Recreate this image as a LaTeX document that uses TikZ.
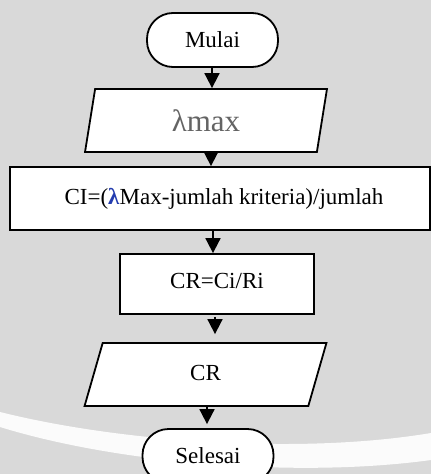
\documentclass[tikz,border=0pt]{standalone}
\usepackage{fontspec}
\setmainfont{Liberation Serif}
\usetikzlibrary{shapes.geometric,arrows.meta}
\definecolor{bggrey}{RGB}{217,217,217}
\definecolor{lamgrey}{RGB}{100,100,100}
\definecolor{lamblue}{RGB}{35,60,175}
\tikzset{
  box/.style={draw=black, line width=1.8pt, fill=white, rectangle, inner sep=0pt},
  term/.style={box, rounded corners=26pt, minimum width=131pt, minimum height=54pt},
  io/.style={draw=black, line width=1.8pt, fill=white, trapezium,
    trapezium left angle=82, trapezium right angle=98, trapezium stretches=true,
    minimum width=242pt, minimum height=63pt, inner sep=0pt},
  lbl/.style={font=\fontsize{23}{27}\selectfont},
  arr/.style={line width=1.8pt, -{Triangle[length=15pt,width=15pt]}}
}
\begin{document}
\begin{tikzpicture}[x=1pt,y=-1pt]
  % page and background
  \useasboundingbox (0,0) rectangle (431,474);
  \clip (0,0) rectangle (431,474);
  \fill[bggrey] (0,0) rectangle (431,474);
  % pale sweeping band near the bottom
  \fill[white, opacity=0.9] (0,412) .. controls (120,442) and (300,455) .. (431,433)
       -- (431,460) .. controls (300,478) and (120,464) .. (0,427) -- cycle;

  % flow steps
  \node[term, lbl] (mulai) at (212.5,40) {Mulai};
  \node[io] (lmax) at (206,120.5)
    {\fontsize{31}{35}\selectfont\color{lamgrey}λmax};
  \node[box, lbl, minimum width=420pt, minimum height=63pt] (ci) at (220,198.5)
    {\hspace{8pt}CI=(\textcolor{lamblue}{\textbf{λ}}Max-jumlah kriteria)/jumlah};
  \node[box, lbl, minimum width=194pt, minimum height=60pt] (cr) at (217,284)
    {\raisebox{6pt}{CR=Ci/Ri}};
  \node[io, lbl] (crout) at (205.5,374.5) {\raisebox{4pt}{CR}};
  \node[term, lbl] (selesai) at (208,456) {Selesai};

  % connector columns
  \coordinate (x1) at (212,0);
  \coordinate (x2) at (211,0);
  \coordinate (x3) at (213,0);
  \coordinate (x4) at (215,0);
  \coordinate (x5) at (207,0);

  \draw[arr] (mulai.south -| x1) -- (lmax.north -| x1);
  \draw[arr] (lmax.south -| x2) -- (ci.north -| x2);
  \draw[arr] (ci.south -| x3) -- (cr.north -| x3);
  \draw[arr, shorten <=2pt, shorten >=8pt] (cr.south -| x4) -- (crout.north -| x4);
  \draw[arr, shorten >=4pt] (crout.south -| x5) -- (selesai.north -| x5);
\end{tikzpicture}
\end{document}
